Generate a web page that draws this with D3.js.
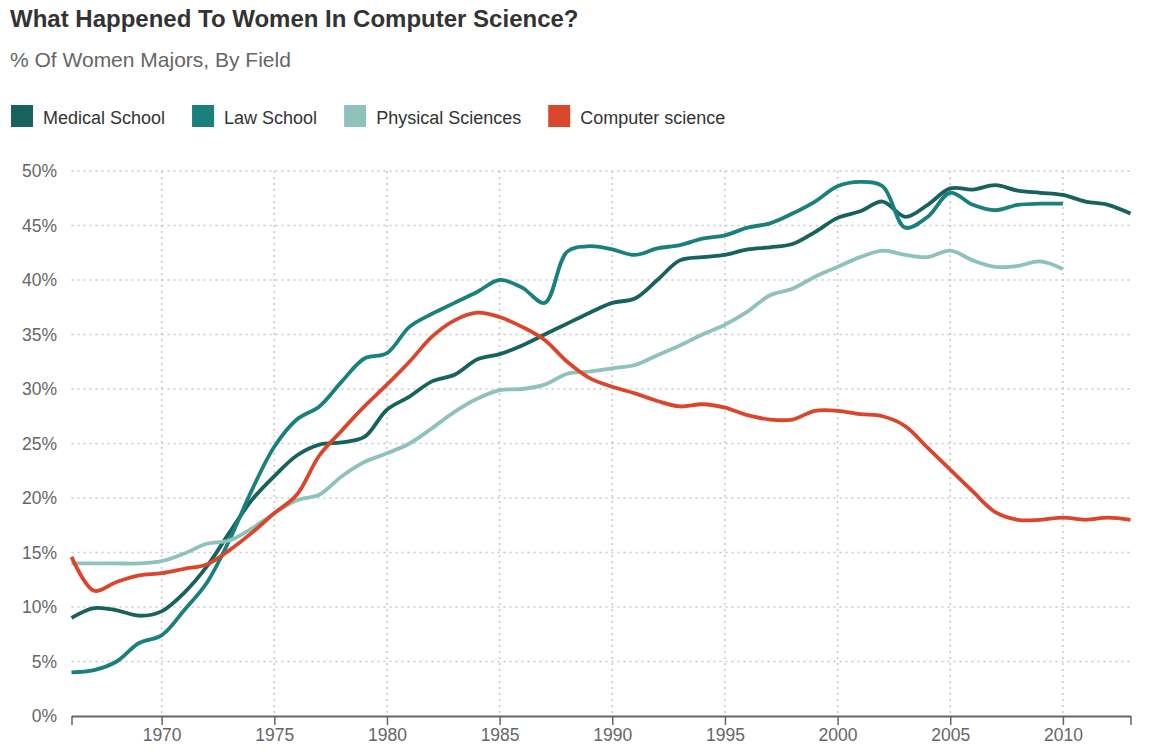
<!DOCTYPE html>
<html>
<head>
<meta charset="utf-8">
<script src="https://cdn.jsdelivr.net/npm/d3@7"></script>
<style>
  body { margin: 0; background: #fff; font-family: "Liberation Sans", Arial, Helvetica, sans-serif; }
</style>
</head>
<body>
<script>
// data (percent of women majors)
var years = [1966, 1967, 1968, 1969, 1970, 1971, 1972, 1973, 1974, 1975, 1976, 1977,
  1978, 1979, 1980, 1981, 1982, 1983, 1984, 1985, 1986, 1987, 1988, 1989, 1990,
  1991, 1992, 1993, 1994, 1995, 1996, 1997, 1998, 1999, 2000, 2001, 2002, 2003,
  2004, 2005, 2006, 2007, 2008, 2009, 2010, 2011, 2012, 2013];

var medical = [9.0, 9.9, 9.7, 9.2, 9.6, 11.3, 13.7, 16.8, 19.8, 22.0, 23.9, 24.9,
  25.1, 25.6, 28.1, 29.3, 30.7, 31.3, 32.7, 33.2, 34.0, 35.0, 36.0, 37.0, 37.9,
  38.3, 40.0, 41.8, 42.1, 42.3, 42.8, 43.0, 43.3, 44.4, 45.7, 46.3, 47.2, 45.8,
  46.9, 48.4, 48.3, 48.7, 48.2, 48.0, 47.8, 47.2, 46.9, 46.1];

var law = [4.0, 4.2, 5.0, 6.7, 7.4, 9.7, 12.2, 16.1, 20.7, 24.7, 27.2, 28.4,
  30.7, 32.8, 33.3, 35.7, 36.9, 37.9, 38.9, 40.0, 39.3, 37.9, 42.6, 43.1, 42.8,
  42.3, 42.9, 43.2, 43.8, 44.1, 44.8, 45.2, 46.1, 47.2, 48.6, 49.0, 48.6, 44.8,
  45.8, 48.0, 46.9, 46.4, 46.9, 47.0, 47.0, null, null, null];

var physical = [14.0, 14.0, 14.0, 14.0, 14.2, 14.9, 15.8, 16.1, 17.2, 18.6, 19.8, 20.3,
  22.0, 23.3, 24.1, 25.0, 26.4, 27.9, 29.1, 29.9, 30.0, 30.4, 31.4, 31.6, 31.9,
  32.2, 33.1, 34.0, 35.0, 35.9, 37.1, 38.6, 39.2, 40.3, 41.2, 42.1, 42.7, 42.3,
  42.1, 42.7, 41.8, 41.2, 41.3, 41.7, 41.0, null, null, null];

var compsci = [14.6, 11.5, 12.3, 12.9, 13.1, 13.5, 13.9, 15.2, 16.8, 18.6, 20.3, 23.9,
  26.2, 28.4, 30.4, 32.5, 34.8, 36.3, 37.0, 36.6, 35.7, 34.5, 32.5, 31.0, 30.2,
  29.6, 28.9, 28.4, 28.6, 28.3, 27.6, 27.2, 27.2, 28.0, 28.0, 27.7, 27.5, 26.6,
  24.6, 22.6, 20.6, 18.7, 18.0, 18.0, 18.2, 18.0, 18.2, 18.0];

var seriesNames = ["Medical School", "Law School", "Physical Sciences", "Computer science"];
var seriesColors = ["#17625c", "#1a807b", "#8fc1bd", "#d9462c"];
var seriesValues = [medical, law, physical, compsci];

var yTicks = [0, 5, 10, 15, 20, 25, 30, 35, 40, 45, 50];
var xTicks = [1966, 1970, 1975, 1980, 1985, 1990, 1995, 2000, 2005, 2010, 2013];
var xLabels = [1970, 1975, 1980, 1985, 1990, 1995, 2000, 2005, 2010];

function draw() {
  var w = 1149, h = 755;
  // plot edges (named so they don't clash with window.top)
  var plotL = 71.5, plotR = 1130.5, plotT = 171, plotB = 716;

  var svg = d3.select("body").append("svg")
    .attr("width", w)
    .attr("height", h);

  // title + subtitle
  svg.append("text")
    .attr("x", 10).attr("y", 27)
    .attr("font-size", 24).attr("font-weight", "bold")
    .attr("fill", "#333")
    .text("What Happened To Women In Computer Science?");

  svg.append("text")
    .attr("x", 10).attr("y", 67)
    .attr("font-size", 21)
    .attr("fill", "#666")
    .text("% Of Women Majors, By Field");

  // legend, laid out by measuring each label
  var lg = svg.append("g");
  var lx = 11;
  seriesNames.forEach(function(name, i) {
    lg.append("rect")
      .attr("x", lx).attr("y", 105)
      .attr("width", 22).attr("height", 22)
      .attr("fill", seriesColors[i]);
    var t = lg.append("text")
      .attr("x", lx + 32).attr("y", 123.5)
      .attr("font-size", 18)
      .attr("fill", "#333")
      .text(name);
    lx = lx + 32 + t.node().getComputedTextLength() + 27;
  });

  // scales
  var x = d3.scaleLinear().domain([1966, 2013]).range([plotL, plotR]);
  var y = d3.scaleLinear().domain([0, 50]).range([plotB, plotT]);

  // horizontal grid
  svg.append("g")
    .selectAll("line")
    .data(yTicks.filter(function(d) { return d > 0; }))
    .enter().append("line")
    .attr("x1", plotL).attr("x2", plotR)
    .attr("y1", function(d) { return y(d); })
    .attr("y2", function(d) { return y(d); })
    .attr("stroke", "#c8c8c8")
    .attr("stroke-width", 1.5)
    .attr("stroke-dasharray", "2,4");

  // vertical grid
  svg.append("g")
    .selectAll("line")
    .data(xLabels)
    .enter().append("line")
    .attr("x1", function(d) { return x(d); })
    .attr("x2", function(d) { return x(d); })
    .attr("y1", plotT).attr("y2", plotB)
    .attr("stroke", "#c8c8c8")
    .attr("stroke-width", 1.5)
    .attr("stroke-dasharray", "2,4");

  // y labels
  svg.append("g")
    .selectAll("text")
    .data(yTicks)
    .enter().append("text")
    .attr("x", 57)
    .attr("y", function(d) { return y(d); })
    .attr("dy", "0.35em")
    .attr("text-anchor", "end")
    .attr("font-size", 17.5)
    .attr("fill", "#666")
    .text(function(d) { return d + "%"; });

  // lines - catmull-rom keeps the curve through the points but rounder
  var line = d3.line()
    .defined(function(d) { return d[1] != null; })
    .x(function(d) { return x(d[0]); })
    .y(function(d) { return y(d[1]); })
    .curve(d3.curveCatmullRom.alpha(0.5));

  seriesValues.forEach(function(vals, i) {
    var pts = years.map(function(yr, j) { return [yr, vals[j]]; });
    svg.append("path")
      .datum(pts)
      .attr("d", line)
      .attr("fill", "none")
      .attr("stroke", seriesColors[i])
      .attr("stroke-width", 3.8)
      .attr("stroke-linejoin", "round")
      .attr("stroke-linecap", "butt");
  });

  // x axis
  var xAxis = d3.axisBottom(x)
    .tickValues(xTicks)
    .tickSize(9)
    .tickSizeOuter(0)
    .tickFormat(function(d) { return xLabels.indexOf(d) >= 0 ? d : ""; });

  var ax = svg.append("g")
    .attr("transform", "translate(0," + plotB + ")")
    .call(xAxis);
  ax.select(".domain").attr("stroke", "#666").attr("stroke-width", 2);
  ax.selectAll(".tick line").attr("stroke", "#666").attr("stroke-width", 1.5);
  ax.selectAll(".tick text")
    .attr("font-size", 17.5)
    .attr("font-family", "\"Liberation Sans\", Arial, sans-serif")
    .attr("fill", "#666")
    .attr("y", 13)
    .attr("dy", "0.71em");
}

window.onload = draw;
</script>
</body>
</html>
